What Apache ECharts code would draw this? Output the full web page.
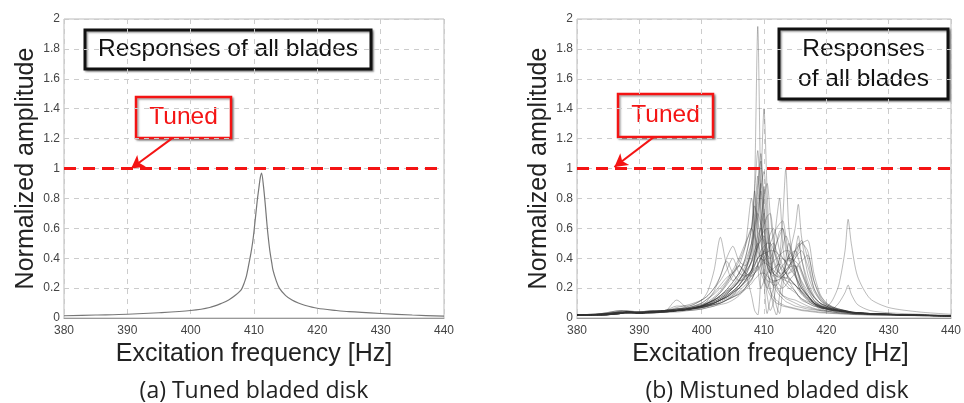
<!DOCTYPE html>
<html>
<head>
<meta charset="utf-8">
<script src="https://cdn.jsdelivr.net/npm/echarts@6/dist/echarts.min.js"></script>
<style>
  html, body { margin: 0; padding: 0; background: #fff; }
  #chart { width: 964px; height: 403px; }
</style>
</head>
<body>
<div id="chart"></div>
<script>
// x / y ticks
const xMin = 380, xMax = 440, xStep = 10;
const yTickLabels = ['0', '0.2', '0.4', '0.6', '0.8', '1', '1.2', '1.4', '1.6', '1.8', '2'];
const tunedLevel = 1;

// (a) tuned bladed disk: one response, all blades identical
const tunedFreq = [380, 385, 390, 395, 400, 403, 405, 406, 407, 408, 408.5, 408.8, 409, 409.5, 409.8, 410, 410.5, 410.8,
  411, 411.2, 411.5, 411.8, 412, 412.2, 412.5, 412.8, 413, 413.5, 414, 415, 416, 417, 418, 420, 423, 425, 430, 435, 440];
const tunedAmp = [0.015, 0.02, 0.025, 0.035, 0.05, 0.07, 0.1, 0.12, 0.15, 0.19, 0.24, 0.28, 0.32, 0.43, 0.51, 0.58, 0.78, 0.88,
  0.94, 0.97, 0.88, 0.75, 0.65, 0.56, 0.45, 0.37, 0.32, 0.25, 0.2, 0.15, 0.12, 0.1, 0.085, 0.065, 0.05, 0.042, 0.03, 0.02, 0.012];

// (b) mistuned bladed disk: one response per blade, sampled on a shared frequency list
const mistunedFreq = [380, 384, 387, 388, 390, 392, 394, 396, 398, 400, 401, 402, 403, 404, 405, 406, 407, 408, 408.5,
  409, 409.5, 410, 410.5, 411, 411.5, 412, 412.5, 413, 413.5, 414, 415, 415.5, 416, 417, 418, 419, 420, 421, 422, 423,
  423.5, 424, 425, 427, 430, 435, 440];
const blade01 = [.02,.025,.04,.035,.03,.035,.04,.045,.06,.08, .09,.1,.12,.14,.17,.22,.3,.5,.9,1.95, .8,.35,.2,.15,.12,.1,.09,.08,.075,.07, .06,.055,.05,.045,.04,.035,.033,.03,.028,.026, .025,.024,.022,.02,.018,.015,.012];
const blade02 = [.02,.02,.03,.04,.035,.03,.04,.04,.05,.06, .07,.08,.09,.1,.12,.15,.2,.3,.42,.6, .9,1.4,.85,.45,.3,.22,.18,.15,.13,.12, .1,.09,.08,.07,.06,.05,.045,.04,.035,.032, .03,.028,.025,.022,.02,.016,.013];
const blade03 = [.02,.025,.035,.04,.04,.045,.05,.06,.08,.12, .18,.32,.54,.35,.25,.3,.4,.6,.85,1.12, .7,.4,.25,.18,.14,.12,.1,.09,.08,.075, .065,.06,.055,.05,.045,.04,.036,.033,.03,.028, .027,.026,.024,.022,.02,.016,.013];
const blade04 = [.02,.03,.05,.045,.04,.05,.05,.07,.09,.12, .15,.2,.28,.4,.48,.38,.35,.45,.65,.9, 1.1,.75,.45,.3,.22,.18,.15,.13,.11,.1, .08,.075,.07,.06,.055,.05,.045,.04,.035,.032, .03,.028,.026,.023,.02,.016,.013];
const blade05 = [.02,.02,.03,.035,.03,.035,.04,.05,.06,.08, .09,.1,.12,.15,.18,.22,.28,.38,.45,.5, .42,.3,.15,.05,.1,.25,.4,.65,1.0,.6, .3,.22,.18,.13,.1,.08,.07,.06,.05,.045, .04,.038,.035,.03,.025,.02,.015];
const blade06 = [.02,.025,.04,.035,.035,.04,.045,.05,.06,.07, .08,.09,.1,.12,.14,.17,.2,.26,.3,.35, .4,.38,.3,.25,.22,.22,.25,.3,.35,.42, .6,.76,.55,.3,.18,.12,.09,.07,.06,.05, .045,.04,.036,.03,.025,.02,.015];
const blade07 = [.02,.02,.03,.04,.03,.04,.04,.05,.06,.08, .1,.12,.14,.17,.2,.25,.3,.38,.45,.55, .6,.5,.35,.3,.45,.65,.8,.5,.32,.25, .18,.15,.12,.1,.08,.07,.06,.05,.045,.04, .038,.035,.032,.028,.024,.018,.014];
const blade08 = [.02,.025,.03,.04,.035,.04,.045,.05,.06,.07, .08,.09,.1,.12,.14,.16,.2,.25,.3,.35, .4,.45,.42,.4,.45,.5,.55,.6,.5,.4, .28,.24,.2,.15,.1,.06,.07,.12,.22,.45, .66,.5,.28,.13,.07,.04,.025];
const blade09 = [.02,.02,.035,.04,.03,.035,.04,.05,.05,.06, .07,.08,.1,.12,.15,.2,.25,.32,.4,.5, .6,.7,.55,.45,.38,.32,.3,.28,.26,.3, .35,.3,.22,.15,.1,.07,.05,.06,.1,.17, .22,.16,.09,.05,.035,.025,.018];
const blade10 = [.02,.025,.04,.04,.035,.04,.045,.06,.07,.09, .1,.12,.15,.18,.2,.24,.28,.3,.33,.35, .3,.25,.2,.28,.4,.5,.58,.6,.45,.38, .42,.48,.52,.4,.2,.12,.08,.06,.05,.045, .04,.037,.033,.028,.024,.018,.014];
const blade11 = [.02,.02,.03,.035,.03,.04,.04,.05,.06,.08, .1,.12,.15,.18,.22,.28,.35,.5,.7,.95, .6,.25,.03,.12,.2,.3,.35,.4,.38,.35, .45,.5,.4,.25,.15,.1,.08,.06,.05,.045, .04,.036,.033,.028,.024,.018,.014];
const blade12 = [.02,.025,.035,.04,.035,.04,.045,.05,.06,.08, .1,.13,.17,.22,.28,.35,.3,.15,.05,.02, .3,.88,.6,.4,.3,.25,.22,.2,.22,.25, .3,.35,.3,.2,.14,.1,.08,.065,.055,.048, .045,.04,.036,.03,.025,.019,.015];
const blade13 = [.02,.025,.03,.035,.04,.045,.05,.06,.07,.1, .13,.16,.2,.25,.32,.4,.5,.6,.75,.65, .5,.42,.38,.36,.38,.4,.42,.44,.45,.45, .35,.3,.25,.18,.12,.09,.07,.06,.05,.045, .04,.037,.033,.028,.024,.018,.014];
const blade14 = [.02,.02,.03,.04,.035,.04,.045,.05,.055,.07, .08,.1,.12,.14,.16,.2,.25,.32,.4,.5, .65,.8,.9,.7,.5,.38,.3,.25,.22,.2, .17,.15,.13,.11,.09,.075,.065,.055,.05,.045, .042,.038,.035,.03,.025,.019,.015];
const blade15 = [.02,.025,.035,.035,.04,.04,.05,.06,.065,.08, .09,.1,.12,.14,.17,.2,.25,.32,.4,.48, .52,.55,.45,.35,.3,.28,.27,.28,.3,.33, .4,.45,.5,.45,.25,.15,.1,.075,.06,.05, .045,.04,.036,.03,.025,.019,.015];
const blade16 = [.02,.03,.05,.045,.04,.05,.05,.08,.08,.12, .15,.2,.25,.32,.4,.3,.28,.32,.38,.45, .55,.62,.68,.7,.55,.42,.35,.3,.25,.22, .18,.15,.13,.1,.08,.07,.06,.05,.045,.04, .038,.035,.032,.028,.024,.018,.014];
const blade17 = [.02,.02,.03,.035,.035,.04,.04,.045,.055,.07, .08,.1,.12,.15,.18,.22,.28,.38,.5,.68, .85,.6,.35,.2,.08,.02,.15,.28,.35,.4, .38,.36,.32,.22,.14,.1,.075,.06,.05,.045, .04,.036,.033,.028,.024,.018,.014];
const blade18 = [.02,.025,.04,.04,.035,.04,.045,.055,.065,.09, .11,.14,.18,.24,.3,.38,.48,.6,.55,.45, .4,.38,.42,.48,.5,.45,.4,.35,.3,.27, .22,.2,.18,.14,.1,.08,.065,.055,.05,.045, .04,.037,.033,.028,.024,.018,.014];
const blade19 = [.02,.02,.035,.04,.035,.04,.045,.05,.06,.075, .085,.1,.12,.14,.17,.2,.24,.28,.32,.36, .4,.45,.5,.56,.6,.55,.45,.4,.38,.4, .45,.48,.5,.52,.3,.16,.1,.075,.06,.05, .045,.04,.036,.03,.025,.019,.015];
const blade20 = [.02,.025,.03,.04,.035,.04,.04,.05,.06,.07, .08,.09,.11,.13,.15,.18,.22,.26,.3,.32, .35,.37,.36,.34,.32,.3,.28,.26,.25,.24, .22,.2,.18,.14,.1,.08,.065,.055,.05,.045, .04,.037,.033,.028,.024,.018,.014];
const blade21 = [.02,.025,.035,.03,.04,.04,.05,.05,.06,.08, .09,.11,.13,.16,.2,.25,.32,.45,.62,.85, 1.05,.7,.42,.3,.24,.2,.17,.15,.14,.13, .12,.11,.1,.08,.065,.055,.048,.042,.038,.034, .032,.03,.028,.025,.021,.016,.013];
const blade22 = [.02,.02,.03,.035,.03,.035,.04,.12,.06,.08, .12,.18,.28,.38,.3,.25,.26,.3,.35,.4, .42,.4,.35,.3,.28,.3,.32,.35,.38,.42, .45,.4,.32,.2,.12,.08,.065,.055,.05,.045, .04,.037,.033,.028,.024,.018,.014];
const blade23 = [.02,.025,.035,.04,.035,.04,.045,.05,.06,.08, .1,.12,.15,.19,.24,.3,.38,.5,.6,.7, .62,.5,.4,.33,.3,.28,.28,.3,.32,.34, .35,.3,.24,.16,.1,.075,.06,.05,.045,.04, .038,.035,.032,.028,.024,.018,.014];
const blade24 = [.02,.02,.03,.035,.035,.04,.045,.05,.06,.075, .09,.11,.13,.16,.2,.25,.33,.45,.6,.78, .9,.6,.38,.3,.3,.34,.4,.48,.55,.5, .3,.22,.17,.12,.09,.07,.06,.05,.045,.04, .037,.034,.031,.027,.023,.018,.014];
const blade25 = [.02,.025,.04,.045,.035,.04,.05,.055,.065,.08, .1,.12,.14,.17,.21,.26,.31,.37,.42,.48, .55,.58,.6,.5,.4,.34,.3,.3,.32,.35, .4,.43,.45,.35,.2,.13,.09,.07,.055,.048, .043,.039,.035,.03,.025,.019,.015];
const blade26 = [.02,.03,.045,.05,.04,.045,.05,.06,.07,.1, .13,.17,.22,.27,.3,.35,.48,.8,.6,.35, .2,.25,.3,.32,.33,.35,.36,.34,.3,.27, .22,.19,.16,.12,.09,.07,.06,.05,.045,.04, .038,.035,.032,.028,.024,.018,.014];
const blade27 = [.02,.02,.03,.04,.035,.04,.04,.05,.06,.08, .09,.11,.13,.16,.2,.25,.32,.42,.55,.72, .88,.98,.7,.4,.2,.08,.03,.2,.4,.5, .35,.28,.22,.15,.1,.075,.06,.05,.045,.04, .037,.034,.031,.027,.023,.018,.014];
const blade28 = [.02,.025,.035,.04,.035,.04,.045,.05,.06,.075, .085,.1,.12,.15,.18,.22,.27,.32,.36,.4, .42,.43,.44,.45,.45,.44,.42,.4,.37,.34, .28,.24,.2,.15,.11,.085,.07,.06,.05,.045, .04,.037,.033,.028,.024,.018,.014];
const blade29 = [.02,.02,.035,.04,.035,.04,.045,.05,.06,.08, .1,.13,.17,.23,.3,.35,.3,.28,.3,.33, .36,.4,.45,.5,.55,.6,.63,.65,.55,.42, .3,.25,.2,.15,.11,.085,.07,.06,.05,.045, .04,.037,.033,.028,.024,.018,.014];
const blade30 = [.02,.025,.04,.035,.035,.04,.045,.05,.06,.07, .08,.09,.1,.12,.14,.16,.19,.23,.26,.28, .3,.3,.28,.26,.25,.25,.26,.28,.3,.34, .45,.55,.4,.22,.14,.1,.08,.065,.055,.048, .043,.039,.035,.03,.025,.019,.015];
const blade31 = [.02,.025,.03,.035,.04,.04,.045,.055,.065,.085, .1,.12,.15,.19,.24,.3,.4,.6,.85,.55, .35,.28,.25,.24,.24,.25,.26,.27,.27,.26, .22,.2,.17,.13,.1,.08,.065,.055,.05,.045, .04,.037,.033,.028,.024,.018,.014];
const blade32 = [.02,.02,.03,.04,.035,.04,.045,.05,.06,.075, .085,.1,.12,.14,.17,.2,.24,.3,.35,.4, .45,.48,.5,.5,.46,.4,.35,.32,.3,.3, .33,.36,.38,.42,.25,.14,.09,.07,.055,.048, .043,.039,.035,.03,.025,.019,.015];
const blades = [blade01, blade02, blade03, blade04, blade05, blade06, blade07, blade08, blade09, blade10, blade11,
  blade12, blade13, blade14, blade15, blade16, blade17, blade18, blade19, blade20, blade21, blade22, blade23, blade24,
  blade25, blade26, blade27, blade28, blade29, blade30, blade31, blade32];

const font = '"Liberation Sans", Arial, sans-serif';

function xAxisFor(idx, namePad) {
  return {
    type: 'value', gridIndex: idx, min: xMin, max: xMax, interval: xStep,
    name: 'Excitation frequency [Hz]', nameLocation: 'middle', nameGap: 23,
    nameTextStyle: { fontSize: 25, color: '#222', fontFamily: font, padding: namePad },
    axisLine: { show: true, lineStyle: { color: '#999', width: 1 } },
    axisTick: { show: false },
    axisLabel: { fontSize: 12, color: '#444', fontFamily: font, margin: 7 },
    splitLine: { show: true, lineStyle: { color: '#ccc', type: [5, 5], width: 1 } }
  };
}
function yAxisFor(idx) {
  return {
    type: 'value', gridIndex: idx, min: 0, max: 2, interval: 0.2,
    name: 'Normalized amplitude', nameLocation: 'middle', nameGap: 25,
    nameTextStyle: { fontSize: 25, color: '#222', fontFamily: font },
    axisLine: { show: false },
    axisTick: { show: false },
    axisLabel: {
      fontSize: 12, color: '#444', fontFamily: font, margin: 4,
      formatter: v => yTickLabels[Math.round(v / 0.2)]
    },
    splitLine: { show: true, lineStyle: { color: '#ccc', type: [5, 5], width: 1 } }
  };
}

function tunedLine() {
  return {
    symbol: 'none', silent: true, label: { show: false },
    lineStyle: { color: '#f41414', type: [12, 7], width: 3 },
    data: [{ yAxis: tunedLevel }]
  };
}
function arrow(idx, from, to) {
  return {
    type: 'line', xAxisIndex: idx, yAxisIndex: idx, data: [], z: 5,
    markLine: {
      silent: true, symbol: ['none', 'arrow'], symbolSize: [11, 13], label: { show: false },
      lineStyle: { color: '#f41414', type: 'solid', width: 2 },
      data: [[{ coord: from }, { coord: to }]]
    }
  };
}

const series = [];
series.push({
  type: 'line', xAxisIndex: 0, yAxisIndex: 0, symbol: 'none', smooth: 0.3,
  lineStyle: { color: '#777', width: 1.2 },
  data: tunedFreq.map((f, i) => [f, tunedAmp[i]]),
  markLine: tunedLine()
});
blades.forEach((vals, k) => {
  series.push({
    type: 'line', xAxisIndex: 1, yAxisIndex: 1, symbol: 'none', smooth: 0.25,
    lineStyle: { color: 'rgba(50,50,50,0.42)', width: 0.8 },
    data: mistunedFreq.map((f, i) => [f, vals[i]]),
    markLine: k === 0 ? tunedLine() : undefined
  });
});
series.push(arrow(0, [397, 1.2], [390.6, 1.0]));
series.push(arrow(1, [392.3, 1.21], [386.0, 1.01]));

function box(x, y, w, h, text, color, lw) {
  return {
    type: 'group', z: 100,
    children: [
      {
        type: 'rect', shape: { x: x, y: y, width: w, height: h },
        style: { fill: '#fff', stroke: color, lineWidth: lw, shadowBlur: 2, shadowOffsetX: 1.5, shadowOffsetY: 1.5, shadowColor: 'rgba(0,0,0,0.35)' }
      },
      {
        type: 'text', x: x + w / 2, y: y + h / 2,
        style: { text: text, fill: color, font: '24.5px ' + font, align: 'center', verticalAlign: 'middle', lineHeight: 30 }
      }
    ]
  };
}
function caption(x, y, text) {
  return {
    type: 'text', x: x, y: y, z: 100,
    style: { text: text, fill: '#222', font: '23px "Open Sans", "Noto Sans", sans-serif', align: 'center', verticalAlign: 'middle' }
  };
}

const chart = echarts.init(document.getElementById('chart'));
chart.setOption({
  animation: false,
  backgroundColor: '#fff',
  grid: [
    { left: 64, right: 520, top: 19, bottom: 85, show: true, borderColor: '#bbb', borderWidth: 1 },
    { left: 577, right: 6, top: 19, bottom: 85, show: true, borderColor: '#bbb', borderWidth: 1 }
  ],
  xAxis: [xAxisFor(0, 0), xAxisFor(1, [0, 0, 0, 13])],
  yAxis: [yAxisFor(0), yAxisFor(1)],
  series: series,
  graphic: [
    box(85, 30, 286, 39, 'Responses of all blades', '#111', 3),
    box(136, 97, 95, 41, 'Tuned', '#f41414', 2.5),
    box(779, 29, 169, 70, 'Responses\nof all blades', '#111', 3),
    box(618, 94, 95, 43, 'Tuned', '#f41414', 2.5),
    caption(254, 391, '(a) Tuned bladed disk'),
    caption(777, 391, '(b) Mistuned bladed disk')
  ]
});
</script>
</body>
</html>
